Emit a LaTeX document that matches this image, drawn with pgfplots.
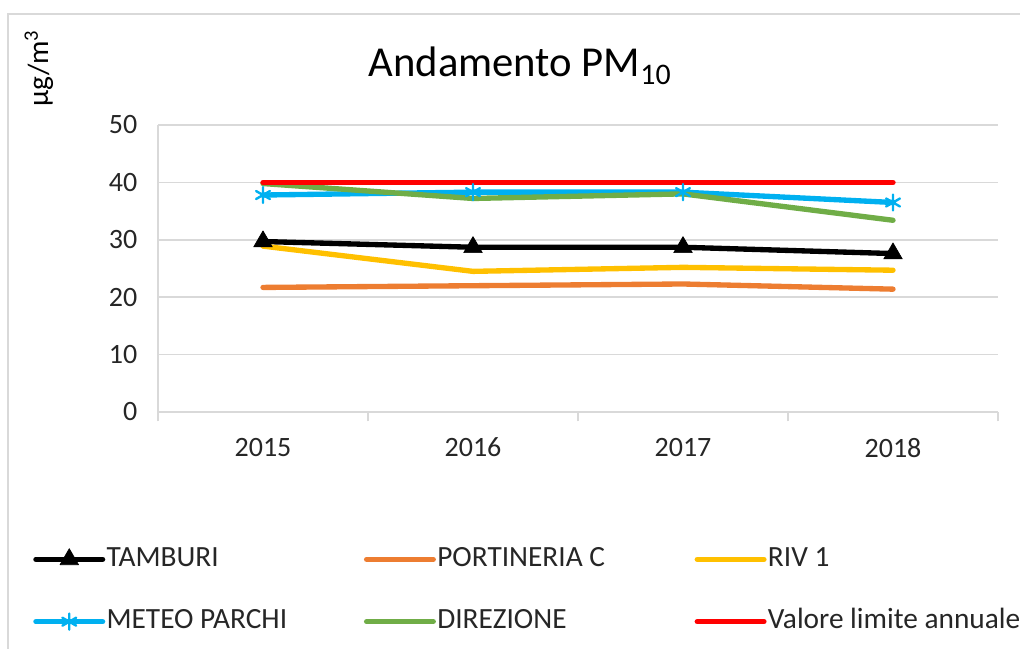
\documentclass[border=0pt]{standalone}
\usepackage{pgfplots}
\pgfplotsset{compat=1.18}
\usepackage{fontspec}
\setmainfont{Carlito}
\definecolor{cOrange}{HTML}{ED7D31}
\definecolor{cYellow}{HTML}{FFC000}
\definecolor{cBlue}{HTML}{00B0F0}
\definecolor{cGreen}{HTML}{70AD47}
\definecolor{cRed}{HTML}{FF0000}
\definecolor{cGrid}{HTML}{D9D9D9}
\definecolor{cText}{HTML}{262626}
\begin{document}
\begin{tikzpicture}[x=0.75pt,y=0.75pt]
\useasboundingbox (0,0) rectangle (1020,649);
\draw[color=cGrid, line width=1.5pt] (8,-20) -- (8,635) -- (1040,635);
\node[font=\fontsize{32}{38}\selectfont, anchor=base, text=black] at (520,572) {Andamento PM\textsubscript{10}};
\node[font=\fontsize{22}{26}\selectfont, anchor=base, rotate=90, text=black] at (48,580.5) {μg/m\textsuperscript{3}};
\coordinate (A) at (158,237);
\begin{axis}[
  at={(A)}, anchor=south west,
  scale only axis, width=630pt, height=215.25pt,
  xmin=-0.5, xmax=3.5, ymin=0, ymax=50,
  axis x line*=bottom, axis y line*=left,
  axis line style={cGrid, line width=1.2pt},
  xtick={0,1,2,3}, xticklabels={2015,2016,2017,2018},
  minor xtick={-0.5,0.5,1.5,2.5,3.5},
  ytick={0,10,20,30,40,50},
  major tick length=0pt, minor tick length=7pt, tick align=outside,
  minor tick style={cGrid, line width=1.2pt},
  xtick pos=lower, ytick pos=left,
  ymajorgrids, grid style={cGrid, line width=1.2pt},
  /pgf/number format/assume math mode=true,
  tick label style={font=\fontsize{21}{25}\selectfont, text=cText},
  yticklabel style={xshift=-12pt},
  xticklabel style={yshift=-16pt},
  every axis plot/.append style={line width=4pt, line cap=round, line join=round},
  legend image code/.code={\draw[mark repeat=2,mark phase=2,#1] plot coordinates {(0pt,0pt) (25pt,0pt) (50pt,0pt)};},
  legend columns=3,
  legend cell align=left,
  legend style={draw=none, fill=none, at={(-0.1488,-0.622)}, anchor=west, inner sep=0pt,
    font=\fontsize{22}{26}\selectfont, text=cText,
    /tikz/column sep=0pt, /tikz/row sep=26.75pt,
    nodes={inner sep=1pt, text width=192pt, align=flush left, text height=14pt, text depth=4pt}},
]
\addplot[black, mark=triangle*, mark size=8pt, mark options={line width=0.5pt}] coordinates {(0,29.7) (1,28.7) (2,28.7) (3,27.6)};
\addlegendentry{TAMBURI}
\addplot[cOrange] coordinates {(0,21.7) (1,22.0) (2,22.3) (3,21.4)};
\addlegendentry{PORTINERIA C}
\addplot[cYellow] coordinates {(0,28.9) (1,24.5) (2,25.2) (3,24.7)};
\addlegendentry{RIV 1}
\addplot[cBlue, mark=asterisk, mark size=6pt, mark options={line width=1.8pt}] coordinates {(0,37.8) (1,38.3) (2,38.3) (3,36.5)};
\addlegendentry{METEO PARCHI}
\addplot[cGreen] coordinates {(0,39.8) (1,37.2) (2,38.0) (3,33.4)};
\addlegendentry{DIREZIONE}
\addplot[cRed] coordinates {(0,40) (1,40) (2,40) (3,40)};
\addlegendentry{Valore limite annuale}
\end{axis}
\end{tikzpicture}
\end{document}
